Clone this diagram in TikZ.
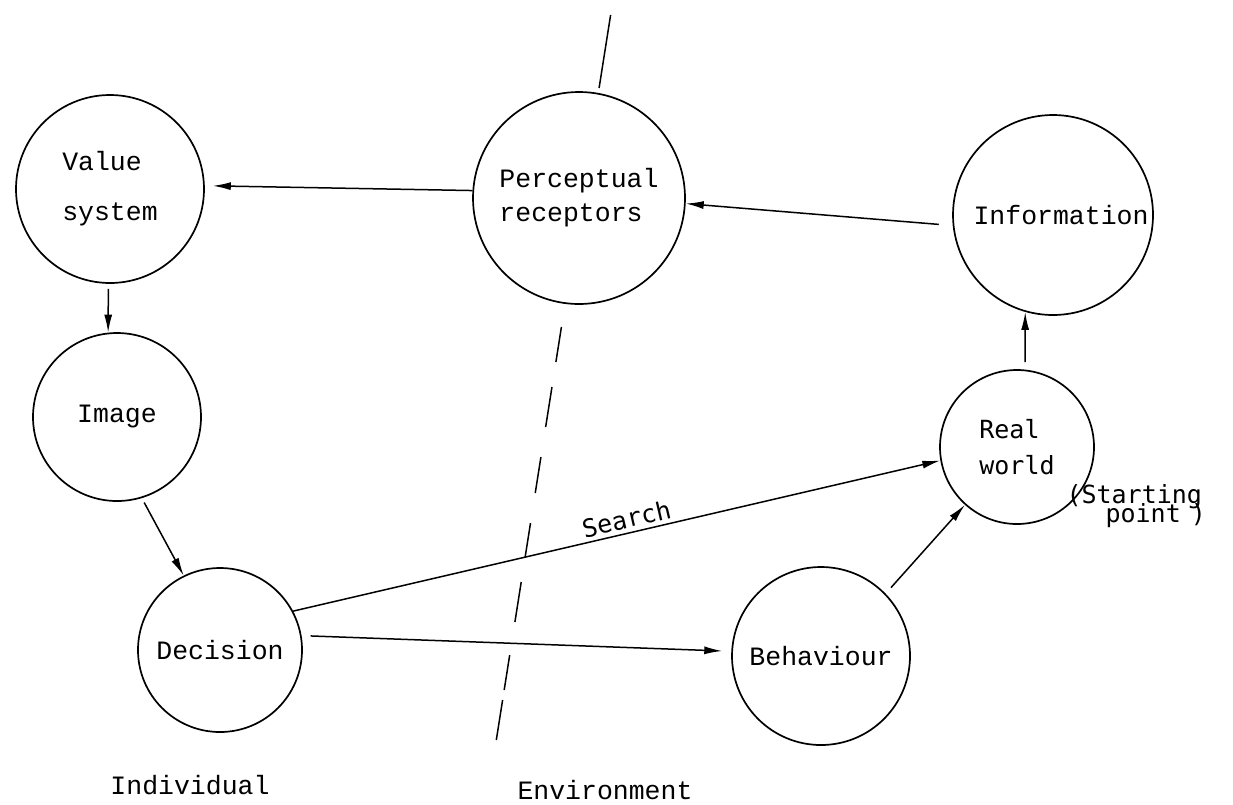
\documentclass[tikz,border=0pt]{standalone}
\usepackage{fontspec}
\newfontfamily\tw{Liberation Mono}
\newfontfamily\sw{DejaVu Sans Mono}
\usetikzlibrary{arrows.meta,calc}
\begin{document}
\begin{tikzpicture}[x=1pt,y=-1pt,
  circ/.style={circle,draw,line width=1.7pt,fill=white,inner sep=0pt,align=left,
    font=\tw\fontsize{26.5}{50}\selectfont},
  arr/.style={line width=1.5pt,-{Latex[length=18pt,width=8pt]}},
  lab/.style={font=\tw\fontsize{26.5}{30}\selectfont},
  slab/.style={font=\sw\fontsize{25}{20}\selectfont}]
\useasboundingbox (0,0) rectangle (1233,804);
% boundary between individual and environment (hand-drawn dashes)
\coordinate (dtop) at (610.6,15);
\coordinate (dbot) at (496.3,740);
\foreach \a/\b in {0/0.1007,0.4303/0.4786,0.5131/0.5683,0.6097/0.6593,0.7007/0.7476,0.7821/0.8372,0.8828/0.931,0.9448/1}
  \draw[line width=1.5pt] ($(dtop)!\a!(dbot)$) -- ($(dtop)!\b!(dbot)$);
% circles
\node[circ,minimum size=188pt] (V) at (110,189) {Value\\system};
\node[circ,minimum size=212pt,font=\tw\fontsize{26.5}{34}\selectfont] (P) at (579,198) {Perceptual\\receptors};
\node[circ,minimum size=200pt] (I) at (1053,215) {\makebox[0pt]{\hspace*{16pt}Information}};
\node[circ,minimum size=168pt] (Im) at (117,417) {Image};
\node[circ,minimum size=164pt] (D) at (220,650) {Decision};
\node[circ,minimum size=178pt] (B) at (821,656) {Behaviour};
\node[circ,minimum size=154pt,font=\sw\fontsize{25}{36}\selectfont] (R) at (1017,447) {Real\\world};
% connectors
\draw[arr,shorten >=8pt] (P.176) -- (V.2);
\draw[arr,shorten <=14pt] (I.186) -- (P.-3);
\draw[arr,shorten <=5pt] (V.-91) -- (Im.96);
\draw[arr,shorten <=5pt] (Im.-73) -- (D.116);
\draw[arr] (D.28) -- node[pos=0.52,above,sloped,inner sep=4pt,slab]{Search} (R.190);
\draw[arr,shorten <=9pt,shorten >=9pt] (D.10) -- (B.177);
\draw[arr,shorten <=8pt] (B.44) -- (R.228);
\draw[arr,shorten <=7pt] ([xshift=8pt]R.north) -- (I.-106);
% labels
\node[slab,anchor=base west] (sp1) at (1063,503) {(Starting};
\node[slab,anchor=base west] (sp2) at (1102,522) {point\hspace{10pt})};
\node[lab] (ind) at (190,785) {Individual};
\node[lab] (env) at (605,790) {Environment};
\end{tikzpicture}
\end{document}
